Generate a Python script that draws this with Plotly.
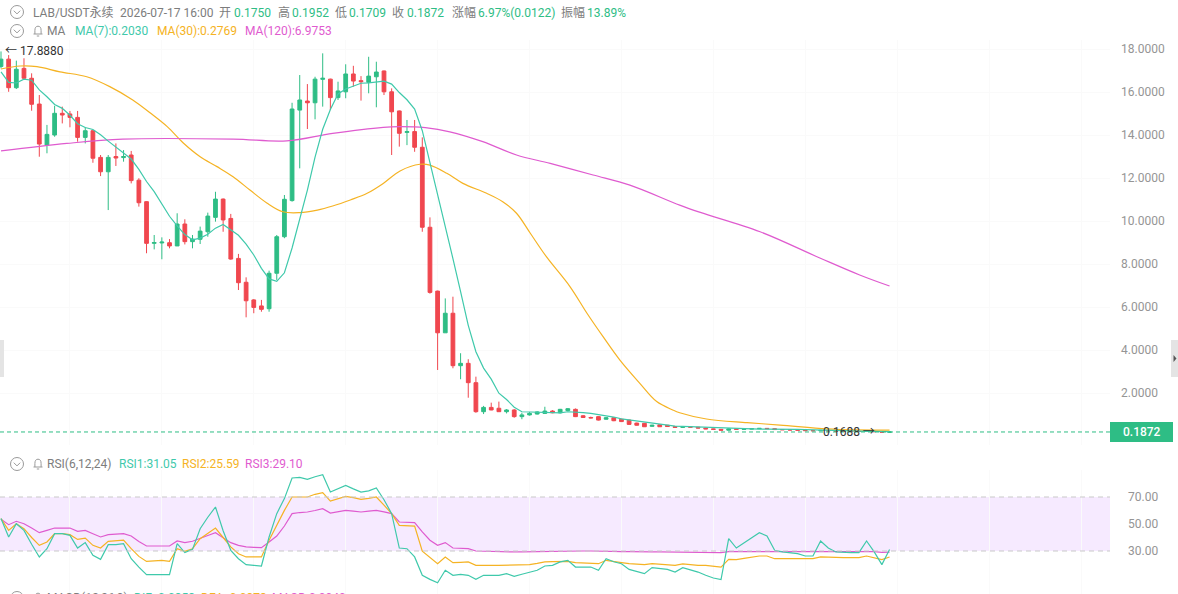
import plotly.graph_objects as go
import pandas as pd

W, H = 1178, 594

# ---------------- data ----------------
opens = [17.19, 17.53, 16.2, 17.1, 16.64, 15.44, 13.53, 14.0, 15.01, 14.98,
         14.82, 13.89, 14.2, 12.96, 12.29, 13.0, 12.95, 13.07, 11.9, 10.9,
         8.96, 8.98, 8.99, 8.84, 9.86, 9.04, 9.15, 9.5, 10.17, 11.02,
         10.12, 8.26, 7.15, 6.33, 6.05, 5.92, 7.57, 9.27, 10.95, 15.16,
         15.58, 15.5, 16.59, 16.6, 15.74, 16.01, 16.84, 16.53, 16.45, 16.71,
         16.98, 16.01, 15.12, 14.12, 14.16, 13.43, 9.71, 6.74, 4.8, 5.71,
         3.27, 3.38, 2.48, 1.13, 1.33, 1.29, 1.13, 1.21, 0.9, 0.98,
         1.02, 1.05, 1.16, 1.08, 1.18, 1.24, 0.94, 0.86, 0.9, 0.78,
         0.85, 0.78, 0.74, 0.6, 0.59, 0.45, 0.52, 0.5, 0.44, 0.40,
         0.43, 0.41, 0.37, 0.33, 0.31, 0.27, 0.33, 0.31, 0.32, 0.34,
         0.355, 0.34, 0.30, 0.29, 0.28, 0.27, 0.25, 0.245, 0.26, 0.24,
         0.225, 0.22, 0.215, 0.21, 0.225, 0.20, 0.1750]
highs = [17.888, 17.72, 17.46, 17.57, 16.87, 15.86, 14.47, 15.36, 15.32, 15.12,
         15.12, 14.36, 14.22, 13.07, 13.07, 13.61, 13.3, 13.26, 11.99, 10.92,
         9.35, 9.24, 9.16, 10.36, 10.08, 9.35, 9.74, 10.39, 11.36, 11.05,
         10.33, 8.47, 7.38, 6.37, 6.33, 7.69, 9.35, 11.21, 15.5, 16.79,
         16.37, 16.71, 17.8, 16.62, 16.48, 17.29, 17.22, 16.74, 17.64, 17.41,
         17.0, 16.17, 15.14, 14.7, 14.7, 13.89, 10.17, 6.76, 6.4, 6.48,
         3.85, 3.57, 2.76, 1.4, 1.55, 1.6, 1.25, 1.25, 1.08, 1.12,
         1.15, 1.36, 1.2, 1.26, 1.3, 1.28, 0.97, 0.9, 0.92, 0.88,
         0.87, 0.8, 0.76, 0.62, 0.6, 0.52, 0.53, 0.51, 0.45, 0.45,
         0.44, 0.42, 0.38, 0.34, 0.32, 0.36, 0.34, 0.33, 0.35, 0.37,
         0.36, 0.345, 0.31, 0.30, 0.29, 0.28, 0.26, 0.28, 0.265, 0.245,
         0.235, 0.225, 0.22, 0.24, 0.23, 0.205, 0.1952]
lows = [17.1, 16.01, 16.14, 16.6, 15.13, 12.99, 13.15, 13.92, 14.54, 14.36,
        13.69, 13.61, 12.71, 12.09, 10.51, 12.56, 12.76, 11.75, 10.67, 8.5,
        8.68, 8.22, 8.73, 8.84, 8.91, 8.73, 8.93, 9.27, 9.97, 9.5,
        8.2, 6.79, 5.52, 5.71, 5.78, 5.78, 7.26, 9.2, 10.9, 12.45,
        14.28, 14.73, 15.32, 15.16, 15.63, 15.71, 16.25, 15.6, 15.94, 15.29,
        15.86, 13.07, 13.46, 13.53, 13.22, 9.5, 6.62, 3.07, 4.8, 3.15,
        2.64, 1.78, 1.08, 1.02, 1.2, 1.12, 1.05, 0.85, 0.78, 0.95,
        1.0, 1.03, 1.06, 1.05, 1.15, 0.88, 0.84, 0.82, 0.72, 0.76,
        0.69, 0.65, 0.52, 0.48, 0.42, 0.43, 0.42, 0.42, 0.39, 0.39,
        0.40, 0.36, 0.32, 0.30, 0.26, 0.26, 0.30, 0.30, 0.31, 0.33,
        0.33, 0.29, 0.28, 0.27, 0.26, 0.24, 0.235, 0.24, 0.235, 0.22,
        0.215, 0.21, 0.205, 0.205, 0.195, 0.1688, 0.1709]
closes = [17.53, 16.2, 17.06, 16.64, 15.43, 13.58, 14.03, 15.01, 14.93, 14.82,
          13.89, 14.2, 12.92, 12.29, 12.96, 12.93, 13.0, 11.88, 10.85, 8.96,
          9.0, 9.02, 8.84, 9.86, 9.04, 9.16, 9.53, 10.23, 11.02, 10.05,
          8.23, 7.13, 6.29, 5.98, 5.89, 7.57, 9.27, 11.01, 15.21, 15.63,
          15.5, 16.6, 16.64, 15.74, 16.05, 16.84, 16.51, 16.48, 16.74, 16.93,
          16.01, 15.08, 14.08, 14.16, 13.43, 9.71, 6.68, 4.8, 5.71, 3.27,
          3.38, 2.48, 1.13, 1.33, 1.21, 1.13, 1.21, 0.9, 0.98, 1.05,
          1.12, 1.16, 1.08, 1.24, 1.27, 0.9, 0.86, 0.84, 0.74, 0.85,
          0.71, 0.67, 0.54, 0.5, 0.43, 0.5, 0.43, 0.44, 0.40, 0.43,
          0.41, 0.37, 0.33, 0.31, 0.27, 0.33, 0.31, 0.32, 0.34, 0.355,
          0.34, 0.30, 0.29, 0.28, 0.27, 0.25, 0.245, 0.26, 0.24, 0.225,
          0.22, 0.215, 0.21, 0.225, 0.20, 0.175, 0.1872]
candle_idx = list(range(len(closes)))

# MA(7) values for the first six candles (earlier history not shown)
ma7_head = [16.94, 16.45, 16.42, 16.6, 16.55, 16.1]

ma30_pos = [0, 2.5, 4.7, 7.7, 11.2, 14.2, 17.2, 19.5, 21.7, 23.8, 26.0, 28.2, 30.3, 32.5,
            34.7, 36.8, 39.0, 41.3, 43.3, 45.6, 47.8, 49.9, 52.1, 54.7, 56.0, 58.2, 60.3,
            63.4, 65.5, 67.3, 69.1, 71.2, 74.3, 76.5, 78.6, 80.8, 83.4, 85.6, 87.7, 88.6,
            92.1, 97.4, 101.7, 107.8, 111.7, 116]
ma30_val = [17.07, 17.21, 17.18, 16.94, 16.71, 16.25, 15.63, 15.02, 14.39, 13.63, 12.99,
            12.53, 12.06, 11.44, 10.84, 10.43, 10.39, 10.51, 10.7, 10.98, 11.29, 11.75,
            12.33, 12.64, 12.6, 12.22, 11.75, 11.29, 10.9, 10.36, 9.43, 8.34, 6.94, 5.71,
            4.62, 3.53, 2.45, 1.6, 1.21, 1.08, 0.79, 0.62, 0.51, 0.33, 0.28, 0.2769]

ma120_pos = [0, 8.6, 15.9, 30.3, 37.3, 43.3, 49.9, 52.1, 55.4, 58.6, 62.9, 67.3, 71.7,
             77.3, 82.1, 88.6, 91.3, 99.1, 106.9, 112.1, 116]
ma120_val = [13.26, 13.61, 13.81, 13.81, 13.73, 14.08, 14.36, 14.39, 14.34, 14.15, 13.69,
             13.07, 12.68, 12.14, 11.67, 10.74, 10.4, 9.5, 8.28, 7.49, 6.9753]

rsi6 = [54.0, 40.4, 50.2, 45.3, 35.0, 25.6, 31.7, 42.8, 42.8, 41.6,
        32.2, 36.2, 26.8, 23.8, 34.7, 34.7, 35.4, 24.3, 18.0, 12.5,
        12.5, 12.5, 12.5, 35.4, 28.8, 31.2, 46.5, 55.0, 62.6, 45.0,
        30.5, 24.3, 19.9, 19.4, 18.9, 40.4, 57.7, 68.8, 84.1, 84.5,
        83.1, 85.0, 86.5, 73.7, 76.0, 78.6, 76.0, 73.7, 74.5, 76.7,
        68.0, 57.7, 32.2, 31.7, 25.6, 12.0, 9.0, 6.5, 15.7, 12.0,
        12.7, 12.0, 9.0, 12.0, 12.0, 12.0, 13.2, 11.2, 12.8, 14.4,
        15.7, 18.9, 19.4, 21.9, 23.1, 18.1, 18.1, 18.1, 15.7, 24.3,
        22.0, 20.6, 16.4, 15.0, 13.2, 17.7, 17.0, 16.4, 14.4, 17.7,
        16.0, 14.4, 12.0, 10.0, 8.8, 39.1, 32.2, 36.0, 40.4, 43.6,
        41.1, 30.5, 29.3, 28.7, 28.0, 26.3, 26.3, 37.4, 32.2, 29.3,
        28.8, 28.8, 28.8, 37.4, 29.3, 19.9, 31.05]
rsi12 = [54.0, 45.3, 50.2, 46.5, 40.0, 34.2, 36.7, 42.8, 42.8, 42.1,
         38.6, 39.6, 34.2, 32.2, 37.2, 37.7, 38.1, 31.7, 26.0, 22.3,
         22.7, 23.1, 22.3, 31.7, 29.8, 31.7, 39.1, 43.0, 47.0, 40.0,
         33.0, 28.0, 25.6, 25.6, 25.6, 37.9, 49.5, 60.1, 70.0, 70.0,
         70.0, 72.0, 73.2, 67.0, 69.0, 70.5, 69.5, 68.3, 69.0, 70.0,
         64.0, 57.7, 49.0, 48.5, 48.5, 29.8, 25.0, 20.6, 25.6, 21.4,
         21.6, 21.9, 19.4, 19.6, 19.4, 19.4, 19.4, 19.4, 19.5, 19.9,
         20.8, 21.9, 22.1, 22.3, 22.3, 21.4, 21.1, 21.1, 20.6, 23.1,
         22.0, 21.4, 20.6, 20.2, 19.9, 20.6, 20.3, 20.1, 19.4, 20.4,
         19.8, 19.4, 19.4, 18.8, 18.1, 23.8, 23.6, 24.5, 25.6, 26.3,
         26.3, 24.3, 24.3, 24.3, 24.3, 24.3, 24.3, 25.6, 25.3, 25.1,
         25.1, 25.1, 25.1, 26.3, 25.1, 23.6, 25.59]
rsi24 = [53.5, 49.5, 52.0, 50.2, 47.0, 43.6, 45.3, 47.0, 47.0, 47.0,
         44.6, 45.3, 42.8, 40.4, 42.1, 42.5, 42.8, 41.1, 37.0, 33.7,
         33.7, 33.7, 33.7, 37.4, 36.2, 37.2, 39.6, 41.5, 43.6, 40.0,
         36.2, 34.2, 33.0, 32.7, 32.5, 36.7, 41.1, 48.5, 57.7, 58.5,
         58.9, 60.0, 61.4, 58.1, 59.0, 60.1, 59.5, 58.9, 59.5, 60.1,
         59.0, 57.7, 51.5, 51.2, 51.0, 44.1, 38.0, 34.2, 36.2, 32.2,
         32.0, 31.7, 30.0, 29.8, 29.6, 29.3, 29.3, 29.3, 29.4, 29.5,
         29.8, 30.0, 30.1, 30.2, 30.2, 30.0, 30.0, 30.0, 30.0, 30.1,
         29.8, 29.6, 29.5, 29.3, 29.3, 29.4, 29.3, 29.2, 29.3, 29.3,
         29.1, 29.0, 28.9, 28.8, 28.8, 29.6, 29.6, 29.8, 29.9, 30.0,
         29.9, 29.6, 29.6, 29.6, 29.6, 29.5, 29.5, 29.8, 29.7, 29.6,
         29.6, 29.6, 29.6, 29.8, 29.6, 29.0, 29.10]

price_ticks = [2, 4, 6, 8, 10, 12, 14, 16, 18]
rsi_ticks = [30, 50, 70]
last_price = 0.1872
high_mark = 17.888
low_mark = 0.1688

# ---------------- styling ----------------
GREEN = "#2ebd85"
RED = "#f0474f"
C7 = "#3fc9ab"
C30 = "#f5b324"
C120 = "#df5bcf"
GRAY_TXT = "#7d7d7d"
TICK = "#959595"
GRID = "#fafafa"
FONT = "Roboto, 'Noto Sans CJK SC', sans-serif"

XD = 1110 / W


def px(x):
    return x / W


def py(y):
    return 1 - y / H


ma7 = pd.Series(closes).rolling(7).mean().tolist()
ma7[:6] = ma7_head

fig = go.Figure()
fig.add_trace(go.Candlestick(
    x=candle_idx, open=opens, high=highs, low=lows, close=closes,
    increasing=dict(line=dict(color=GREEN, width=1), fillcolor=GREEN),
    decreasing=dict(line=dict(color=RED, width=1), fillcolor=RED),
    whiskerwidth=0, showlegend=False, hoverinfo="skip", xaxis="x", yaxis="y"))
fig.add_trace(go.Scatter(x=ma30_pos, y=ma30_val, mode="lines", line=dict(color=C30, width=1.2, shape="spline"),
                         showlegend=False, hoverinfo="skip", xaxis="x", yaxis="y"))
fig.add_trace(go.Scatter(x=ma120_pos, y=ma120_val, mode="lines", line=dict(color=C120, width=1.2, shape="spline"),
                         showlegend=False, hoverinfo="skip", xaxis="x", yaxis="y"))
fig.add_trace(go.Scatter(x=candle_idx, y=ma7, mode="lines", line=dict(color=C7, width=1.2),
                         showlegend=False, hoverinfo="skip", xaxis="x", yaxis="y"))

for vals, col in [(rsi24, C120), (rsi12, C30), (rsi6, C7)]:
    fig.add_trace(go.Scatter(x=candle_idx, y=vals, mode="lines", line=dict(color=col, width=1.2),
                             showlegend=False, hoverinfo="skip", xaxis="x2", yaxis="y2"))

shapes = []
# RSI band
shapes.append(dict(type="rect", xref="paper", yref="y2", x0=0, x1=XD, y0=30, y1=70,
                   fillcolor="rgba(212,160,255,0.22)", line=dict(width=0), layer="below"))
for lv in (30, 70):
    shapes.append(dict(type="line", xref="paper", yref="y2", x0=0, x1=XD, y0=lv, y1=lv,
                       line=dict(color="#c9c9c9", width=1, dash="5px,4px")))
# last price dashed line
shapes.append(dict(type="line", xref="paper", yref="y", x0=0, x1=XD, y0=last_price, y1=last_price,
                   line=dict(color=GREEN, width=1, dash="4px,3px")))
# last price label box
shapes.append(dict(type="rect", xref="paper", yref="paper", x0=px(1110), x1=px(1173), y0=py(442), y1=py(422),
                   fillcolor=GREEN, line=dict(width=0)))
# side tabs
shapes.append(dict(type="rect", xref="paper", yref="paper", x0=0, x1=px(4), y0=py(377), y1=py(340),
                   fillcolor="#e4e4e4", line=dict(width=0)))
shapes.append(dict(type="rect", xref="paper", yref="paper", x0=px(1171), x1=px(1178), y0=py(377), y1=py(340),
                   fillcolor="#e4e4e4", line=dict(width=0)))


def path(points_cmds):
    out = []
    for cmd, pts in points_cmds:
        out.append(cmd + " ".join(f"{px(x):.5f},{py(y):.5f}" for x, y in pts))
    return " ".join(out)


shapes.append(dict(type="path", xref="paper", yref="paper",
                   path=path([("M", [(1173.5, 355)]), ("L", [(1176.5, 358.5)]), ("L", [(1173.5, 362)]), ("Z", [])]),
                   fillcolor="#555", line=dict(width=0)))


def chevron(yc):
    shapes.append(dict(type="circle", xref="paper", yref="paper", x0=px(10.5), x1=px(23.5),
                       y0=py(yc + 6.5), y1=py(yc - 6.5), line=dict(color="#9a9a9a", width=1)))
    shapes.append(dict(type="path", xref="paper", yref="paper",
                       path=path([("M", [(13.8, yc - 1.3)]), ("L", [(17, yc + 1.9)]), ("L", [(20.2, yc - 1.3)])]),
                       line=dict(color="#9a9a9a", width=1)))


def bell(yc):
    p = path([("M", [(33.5, yc + 3)]), ("L", [(42.5, yc + 3)]),
              ("M", [(34.9, yc + 3)]), ("L", [(34.9, yc - 0.5)]),
              ("Q", [(34.9, yc - 4.8), (38, yc - 4.8)]),
              ("Q", [(41.1, yc - 4.8), (41.1, yc - 0.5)]), ("L", [(41.1, yc + 3)]),
              ("M", [(36.8, yc + 5)]), ("L", [(39.2, yc + 5)])])
    shapes.append(dict(type="path", xref="paper", yref="paper", path=p, line=dict(color="#9a9a9a", width=1)))


for yc in (12, 31, 464, 598):
    chevron(yc)
for yc in (31, 464, 598):
    bell(yc)

ann = []


def txt(x, y, s, color, size=12, anchor="left", weight=None):
    f = dict(family=FONT, size=size, color=color)
    if weight:
        f["weight"] = weight
    ann.append(dict(x=px(x), y=py(y), xref="paper", yref="paper", text=s, showarrow=False,
                    xanchor=anchor, yanchor="middle", font=f))


# header line 1
hdr1 = [(31, "LAB/USDT永续", GRAY_TXT), (118, "2026-07-17 16:00", GRAY_TXT),
        (217, "开", GRAY_TXT), (232, "0.1750", GREEN), (276, "高", GRAY_TXT), (290, "0.1952", GREEN),
        (333, "低", GRAY_TXT), (347, "0.1709", GREEN), (390, "收", GRAY_TXT), (405, "0.1872", GREEN),
        (450, "涨幅", GRAY_TXT), (476, "6.97%(0.0122)", GREEN), (559, "振幅", GRAY_TXT), (585, "13.89%", GREEN)]
for x, s, c in hdr1:
    txt(x, 12.5, s, c)
# header line 2
for x, s, c in [(45, "MA", GRAY_TXT), (73, "MA(7):0.2030", C7), (155, "MA(30):0.2769", C30),
                (243, "MA(120):6.9753", C120)]:
    txt(x, 31, s, c)
# RSI header
for x, s, c in [(45, "RSI(6,12,24)", GRAY_TXT), (117, "RSI1:31.05", C7), (180, "RSI2:25.59", C30),
                (243, "RSI3:29.10", C120)]:
    txt(x, 464, s, c)
# MACD header (cut off by the bottom edge, as in the source)
for x, s, c in [(45, "MACD(12,26,9)", GRAY_TXT), (132, "DIF:-0.0353", C7), (199, "DEA:-0.0373", C30),
                (270, "MACD:0.0040", C120)]:
    txt(x, 598, s, c)

# last price label
txt(1142, 432, "0.1872", "white", size=12, anchor="center", weight=500)

# high / low markers
ann.append(dict(x=0, y=high_mark, xref="x", yref="y", text="← 17.8880", showarrow=False,
                xanchor="left", yanchor="middle", xshift=2, font=dict(family=FONT, size=12, color="#333")))
ann.append(dict(x=115, y=low_mark, xref="x", yref="y", text="0.1688 →", showarrow=False,
                xanchor="right", yanchor="middle", xshift=-5, font=dict(family=FONT, size=12, color="#333")))

grid_x = list(range(9, 145, 12))
xr = [-0.13, 144.78]

fig.update_layout(
    width=W, height=H, margin=dict(l=0, r=0, t=0, b=0),
    paper_bgcolor="white", plot_bgcolor="white",
    font=dict(family=FONT, size=12, color=TICK),
    showlegend=False, hovermode=False,
    shapes=shapes, annotations=ann,
    xaxis=dict(domain=[0, XD], range=xr, anchor="y", showticklabels=False, tickvals=grid_x,
               showgrid=True, gridcolor=GRID, zeroline=False, showline=False, ticks="",
               rangeslider=dict(visible=False), fixedrange=True),
    yaxis=dict(domain=[1 - 445 / H, 1 - 40 / H], range=[-0.419, 18.42], anchor="x", side="right",
               tickvals=price_ticks, tickformat=".4f", showgrid=True, gridcolor=GRID, zeroline=False,
               showline=False, ticks="", tickfont=dict(family=FONT, size=12, color=TICK),
               ticklabelstandoff=10, automargin=False, fixedrange=True),
    xaxis2=dict(domain=[0, XD], range=xr, anchor="y2", showticklabels=False, tickvals=grid_x,
                showgrid=True, gridcolor=GRID, zeroline=False, showline=False, ticks="", fixedrange=True),
    yaxis2=dict(domain=[0, 1 - 470 / H], range=[-1.85, 90], anchor="x2", side="right",
                tickvals=rsi_ticks, tickformat=".2f", showgrid=False, zeroline=False, showline=False,
                ticks="", tickfont=dict(family=FONT, size=12, color=TICK),
                ticklabelstandoff=17, automargin=False, fixedrange=True),
)

fig.write_html("out.html")
